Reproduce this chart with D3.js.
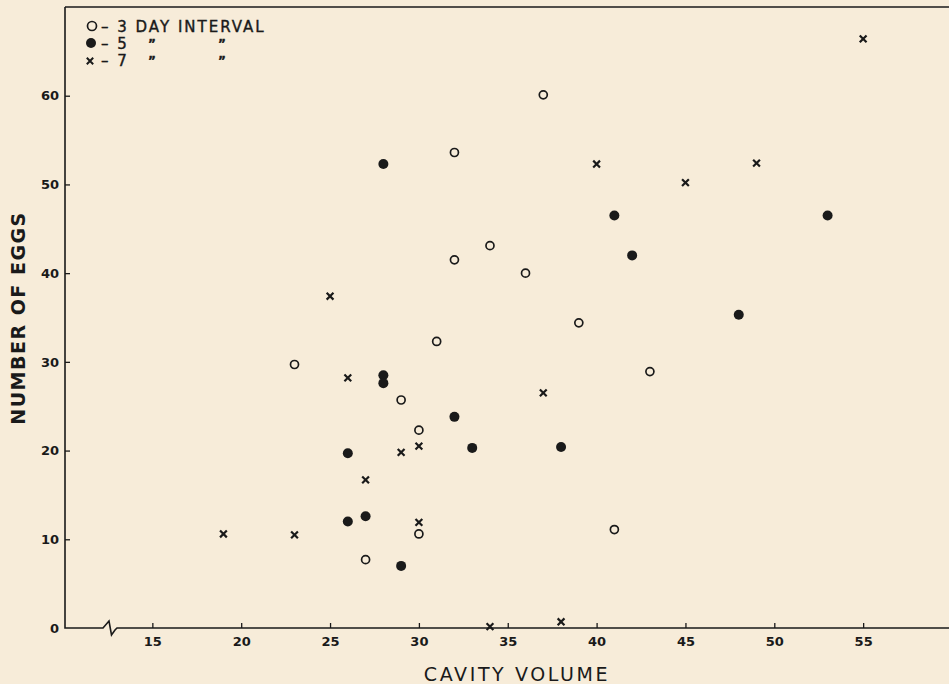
<!DOCTYPE html>
<html>
<head>
    <title>Eggs vs cavity volume</title>
    <script src="https://d3js.org/d3.v7.min.js"></script>
    <style>
        body { margin: 0; background: #f7ecd9; }
        svg { display: block; }
        .tick text { font-family: "DejaVu Sans", sans-serif; font-size: 13px; font-weight: bold; fill: #1a1a1a; }
        .tick line { stroke: #1a1a1a; stroke-width: 1.3px; }
        .axis-title { font-family: "DejaVu Sans", sans-serif; font-size: 19px; fill: #1a1a1a; letter-spacing: 1.5px; }
        .legend { font-family: "DejaVu Sans", sans-serif; font-size: 15px; fill: #1a1a1a; letter-spacing: 2px;
                  stroke: #1a1a1a; stroke-width: 0.4px; }
    </style>
</head>
<body>
    <svg width="949" height="684"></svg>

    <script>
        // cavity volume, number of eggs
        const threeDay = [[23, 29.7], [27, 7.7], [29, 25.7], [30, 22.3], [30, 10.6], [31, 32.3], [32, 53.6],
                          [32, 41.5], [34, 43.1], [36, 40.0], [37, 60.1], [39, 34.4], [41, 11.1], [43, 28.9]];
        const fiveDay = [[26, 19.7], [26, 12.0], [27, 12.6], [28, 52.3], [28, 28.5], [28, 27.6], [29, 7.0],
                         [32, 23.8], [33, 20.3], [38, 20.4], [41, 46.5], [42, 42.0], [48, 35.3], [53, 46.5]];
        const sevenDay = [[19, 10.6], [23, 10.5], [25, 37.4], [26, 28.2], [27, 16.7], [29, 19.8], [30, 20.5],
                          [30, 11.9], [34, 0.15], [37, 26.5], [38, 0.7], [40, 52.3], [45, 50.2], [49, 52.4], [55, 66.4]];
        const xTicks = [15, 20, 25, 30, 35, 40, 45, 50, 55];
        const yTicks = [0, 10, 20, 30, 40, 50, 60];

        const svg = d3.select("svg");
        const ink = "#1a1a1a";

        const x = d3.scaleLinear().domain([10, 60]).range([63.5, 952]);
        const y = d3.scaleLinear().domain([0, 70]).range([628, 7]);
        const x0 = 65;  // left axis line

        // x axis (ticks pointing inward), domain drawn by hand with the break
        svg.append("g")
            .attr("transform", `translate(0,${y(0)})`)
            .call(d3.axisBottom(x).tickValues(xTicks).tickSize(-5).tickPadding(9))
            .call(g => g.select(".domain").remove());

        svg.append("g")
            .attr("transform", `translate(${x0},0)`)
            .call(d3.axisLeft(y).tickValues(yTicks).tickSize(-5).tickPadding(6))
            .call(g => g.select(".domain").remove())
            .call(g => g.selectAll(".tick").filter(d => d === 0).select("line").remove());

        // axis lines and frame top
        const y0 = y(0);
        svg.append("path")
            .attr("d", `M${x0},${y(70)} V${y0} H103 L109,${y0 - 7} L111.5,${y0 + 7} L115,${y0 + 2} L117,${y0} H949`)
            .attr("fill", "none").attr("stroke", ink).attr("stroke-width", 1.6);
        svg.append("line")
            .attr("x1", x0).attr("x2", 949).attr("y1", y(70)).attr("y2", y(70))
            .attr("stroke", ink).attr("stroke-width", 1.6);

        // markers
        svg.append("g").selectAll("circle")
            .data(threeDay).join("circle")
            .attr("cx", d => x(d[0])).attr("cy", d => y(d[1])).attr("r", 4)
            .attr("fill", "none").attr("stroke", ink).attr("stroke-width", 1.7);

        svg.append("g").selectAll("circle")
            .data(fiveDay).join("circle")
            .attr("cx", d => x(d[0])).attr("cy", d => y(d[1])).attr("r", 5)
            .attr("fill", ink);

        const cross = (cx, cy, s) => `M${cx - s},${cy - s}L${cx + s},${cy + s}M${cx - s},${cy + s}L${cx + s},${cy - s}`;
        svg.append("g").selectAll("path")
            .data(sevenDay).join("path")
            .attr("d", d => cross(x(d[0]), y(d[1]), 3.4))
            .attr("stroke", ink).attr("stroke-width", 2.2).attr("fill", "none");

        // axis titles
        svg.append("text").attr("class", "axis-title")
            .attr("x", 517).attr("y", 681).attr("text-anchor", "middle")
            .style("letter-spacing", "2.6px")
            .text("CAVITY VOLUME");
        svg.append("text").attr("class", "axis-title")
            .attr("transform", "translate(25,318) rotate(-90)")
            .attr("text-anchor", "middle").style("font-weight", "bold")
            .text("NUMBER OF EGGS");

        // legend
        const legendRows = [
            { label: "\u2013 3 DAY INTERVAL", ditto: false },
            { label: "\u2013 5", ditto: true },
            { label: "\u2013 7", ditto: true }
        ];
        const lg = svg.append("g");
        legendRows.forEach((r, i) => {
            const cy = 26 + i * 17;
            if (i === 0) lg.append("circle").attr("cx", 92).attr("cy", cy).attr("r", 4.5)
                .attr("fill", "none").attr("stroke", ink).attr("stroke-width", 1.7);
            if (i === 1) lg.append("circle").attr("cx", 91).attr("cy", cy).attr("r", 5).attr("fill", ink);
            if (i === 2) lg.append("path").attr("d", cross(90, cy + 1, 3.2)).attr("stroke", ink)
                .attr("stroke-width", 2);
            lg.append("text").attr("class", "legend").attr("x", 101).attr("y", cy + 5.5).text(r.label);
            if (r.ditto) {
                [153, 223].forEach(dx => lg.append("text").attr("class", "legend")
                    .attr("x", dx).attr("y", cy + 5).attr("text-anchor", "middle")
                    .style("font-size", "12px").style("font-weight", "bold").text("\u201D"));
            }
        });
    </script>
</body>
</html>
